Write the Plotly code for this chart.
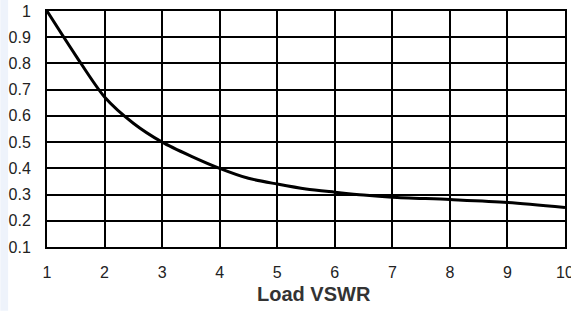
import plotly.graph_objects as go

vswr = [1, 1.5, 2, 2.5, 3, 3.5, 4, 4.5, 5, 5.5, 6, 6.5, 7, 8, 9, 10]
ratio = [1.0, 0.83, 0.672, 0.572, 0.50, 0.447, 0.40, 0.362, 0.34, 0.321, 0.309, 0.298, 0.29, 0.281, 0.270, 0.251]

x_ticks = [1, 2, 3, 4, 5, 6, 7, 8, 9, 10]
y_ticks = [0.1, 0.2, 0.3, 0.4, 0.5, 0.6, 0.7, 0.8, 0.9, 1]
x_title = "Load VSWR"

fig = go.Figure()
fig.add_trace(go.Scatter(x=vswr, y=ratio, mode="lines",
                         line=dict(color="black", width=3, shape="spline", smoothing=0.8),
                         hoverinfo="skip", showlegend=False))

# faint watermark shapes
fig.add_shape(type="path", xref="paper", yref="paper",
              path="M -0.09 1.05 L -0.075 1.05 L -0.075 -0.27 L -0.09 -0.27 Z",
              fillcolor="#eef3fb", line=dict(width=0), layer="below")

fig.update_layout(
    width=571, height=313,
    margin=dict(l=47, r=6, t=11, b=66, autoexpand=False),
    paper_bgcolor="white", plot_bgcolor="white",
    font=dict(family="Liberation Sans, Arial, sans-serif", color="#222222", size=16),
    xaxis=dict(range=[1, 10], tickvals=x_ticks, ticktext=[str(v) for v in x_ticks],
               showgrid=True, gridcolor="black", gridwidth=2,
               showline=True, linecolor="black", linewidth=2, mirror=True,
               zeroline=False, ticks="", ticklabelstandoff=10, fixedrange=True,
               automargin=False, ticklabeloverflow="allow",
               tickfont=dict(size=16)),
    yaxis=dict(range=[0.1, 1], tickvals=y_ticks, ticktext=[("%g" % v) for v in y_ticks],
               showgrid=True, gridcolor="black", gridwidth=2,
               showline=True, linecolor="black", linewidth=2, mirror=True,
               zeroline=False, ticks="", ticklabelstandoff=11, fixedrange=True,
               automargin=False, ticklabeloverflow="allow",
               tickfont=dict(size=16)),
    annotations=[dict(text="<b>%s</b>" % x_title, xref="paper", yref="paper",
                      x=(314 - 47) / 518, y=-(294 - 247) / 236, xanchor="center", yanchor="middle",
                      showarrow=False, font=dict(size=20, color="#333333"))],
)

fig.write_html("out.html", config={"displayModeBar": False},
               post_script="document.body.style.margin='0';document.body.style.overflow='hidden';")
